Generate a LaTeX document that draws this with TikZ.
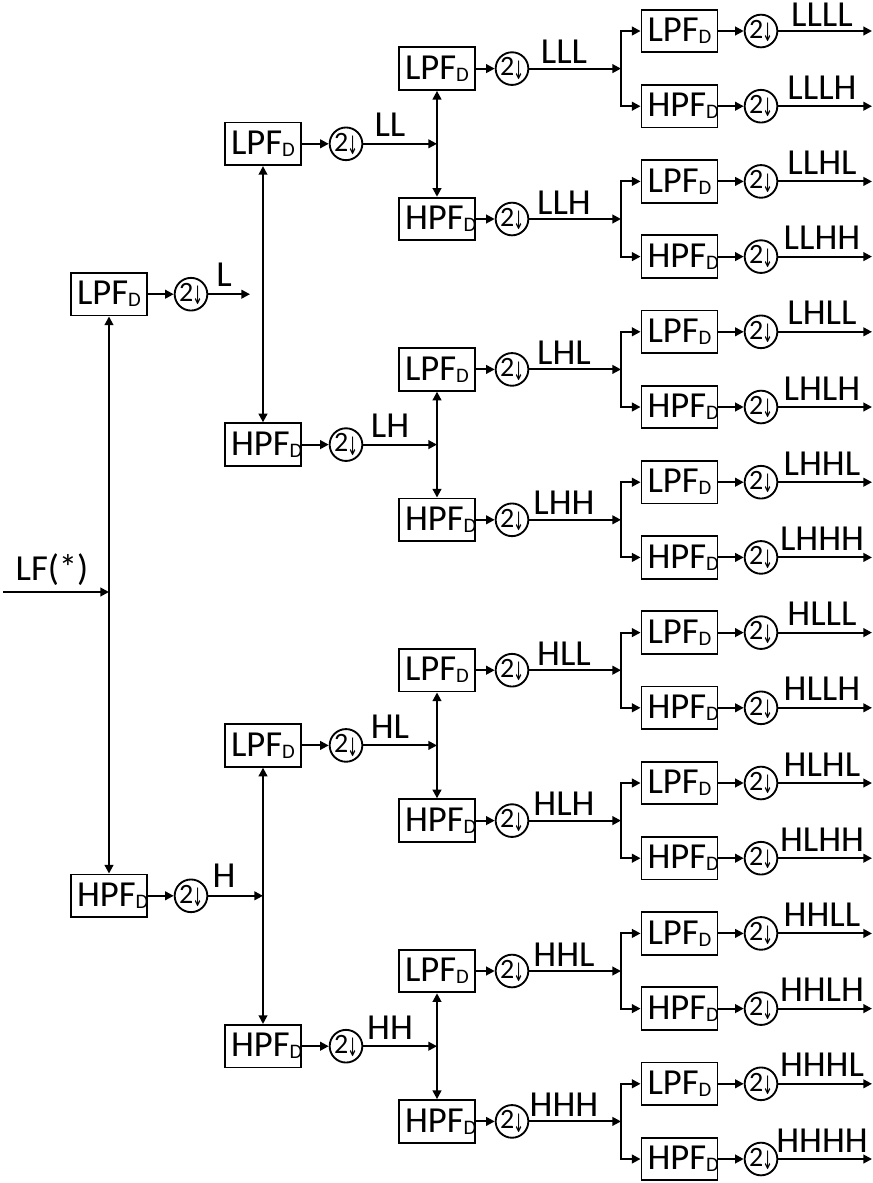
\documentclass[tikz,border=0pt]{standalone}
\usepackage{fontspec}
\setmainfont{Carlito}
\newfontfamily\arrfont{DejaVu Sans}
\usetikzlibrary{arrows.meta}
\tikzset{
  filt/.style={draw, line width=1.4pt, minimum width=57pt, minimum height=32pt,
    inner sep=0pt, font=\fontsize{27.5}{30}\selectfont},
  dsamp/.style={draw, circle, line width=1.4pt, minimum size=24.5pt, inner sep=0pt,
    font=\fontsize{21}{21}\selectfont},
  conn/.style={line width=1.5pt, -{Triangle[length=6.5pt,width=6.5pt]}},
  both/.style={line width=1.5pt, {Triangle[length=6.5pt,width=6.5pt]}-{Triangle[length=6.5pt,width=6.5pt]}},
  lab/.style={font=\fontsize{27.5}{30}\selectfont, inner sep=0pt, anchor=base},
}
\newcommand{\filttext}[1]{\makebox[57pt][l]{\hspace{4.5pt}#1PF\raisebox{-1.5pt}{\fontsize{15.5}{15.5}\selectfont D}}}
\newcommand{\dtext}{2\kern-0.8pt\raisebox{-2.5pt}{\scalebox{0.5}[1]{\arrfont\fontsize{19}{19}\selectfont ↓}}}
\begin{document}
\begin{tikzpicture}[x=0.75pt,y=-0.75pt]
\useasboundingbox (0,0) rectangle (873,1183);

% ---------- level 1 ----------
\foreach \lab [count=\i from 0] in {L,H} {
  \pgfmathsetmacro\yy{31+75.2*(8*\i+3.5)}
  \ifodd\i \def\ft{H}\else\def\ft{L}\fi
  \node[filt] (b1-\i) at (109,\yy) {\filttext{\ft}};
  \node[dsamp] (d1-\i) at (191,\yy) {\dtext};
  \draw[conn] (b1-\i) -- (d1-\i);
  \ifodd\i \coordinate (j1-\i) at (263,\yy); \else \coordinate (j1-\i) at (250,\yy); \fi
  \draw[conn] (d1-\i) -- (j1-\i);
  \node[lab] at (224,\yy-8) {\lab};
}

% ---------- level 2 ----------
\foreach \lab [count=\i from 0] in {LL,LH,HL,HH} {
  \pgfmathsetmacro\yy{31+75.2*(4*\i+1.5)}
  \ifodd\i \def\ft{H}\else\def\ft{L}\fi
  \node[filt] (b2-\i) at (263,\yy) {\filttext{\ft}};
  \node[dsamp] (d2-\i) at (346,\yy) {\dtext};
  \draw[conn] (b2-\i) -- (d2-\i);
  \coordinate (j2-\i) at (437,\yy);
  \draw[conn] (d2-\i) -- (j2-\i);
  \node[lab] at (390,\yy-7) {\lab};
}

% ---------- level 3 ----------
\foreach \lab [count=\i from 0] in {LLL,LLH,LHL,LHH,HLL,HLH,HHL,HHH} {
  \pgfmathsetmacro\yy{31+75.2*(2*\i+0.5)}
  \ifodd\i \def\ft{H}\else\def\ft{L}\fi
  \node[filt] (b3-\i) at (437,\yy) {\filttext{\ft}};
  \node[dsamp] (d3-\i) at (512,\yy) {\dtext};
  \draw[conn] (b3-\i) -- (d3-\i);
  \coordinate (j3-\i) at (621,\yy);
  \draw[conn] (d3-\i) -- (j3-\i);
  \node[lab] at (564,\yy-5) {\lab};
}

% ---------- level 4 ----------
\foreach \lab [count=\i from 0] in {LLLL,LLLH,LLHL,LLHH,LHLL,LHLH,LHHL,LHHH,HLLL,HLLH,HLHL,HLHH,HHLL,HHLH,HHHL,HHHH} {
  \pgfmathsetmacro\yy{31+75.2*\i}
  \ifodd\i \def\ft{H}\else\def\ft{L}\fi
  \node[filt] (b4-\i) at (679.5,\yy) {\filttext{\ft}};
  \node[dsamp] (d4-\i) at (761,\yy) {\dtext};
  \draw[conn] (b4-\i) -- (d4-\i);
  \coordinate (o4-\i) at (872,\yy);
  \draw[conn] (d4-\i) -- (o4-\i);
  \ifnum\i=0
    \node[lab] at (822,\yy-4.5) {\lab};
  \else
    \node[lab] at (822,\yy-7) {\lab};
  \fi
}

% ---------- splits ----------
\draw[both] (b1-0.south) -- (b1-1.north);
\foreach \i in {0,1} {
  \pgfmathtruncatemacro\a{2*\i}
  \pgfmathtruncatemacro\b{2*\i+1}
  \draw[both] (b2-\a.south) -- (b2-\b.north);
}
\foreach \i in {0,...,3} {
  \pgfmathtruncatemacro\a{2*\i}
  \pgfmathtruncatemacro\b{2*\i+1}
  \draw[both] (b3-\a.south) -- (b3-\b.north);
}
\foreach \i in {0,...,7} {
  \pgfmathtruncatemacro\a{2*\i}
  \pgfmathtruncatemacro\b{2*\i+1}
  \draw[conn] (j3-\i) |- (b4-\a.west);
  \draw[conn] (j3-\i) |- (b4-\b.west);
}

% ---------- input ----------
\coordinate (in) at (3,592);
\coordinate (inj) at (109,592);
\draw[conn] (in) -- (inj);
\node[lab] at (52,580) {LF(*)};
\end{tikzpicture}
\end{document}
